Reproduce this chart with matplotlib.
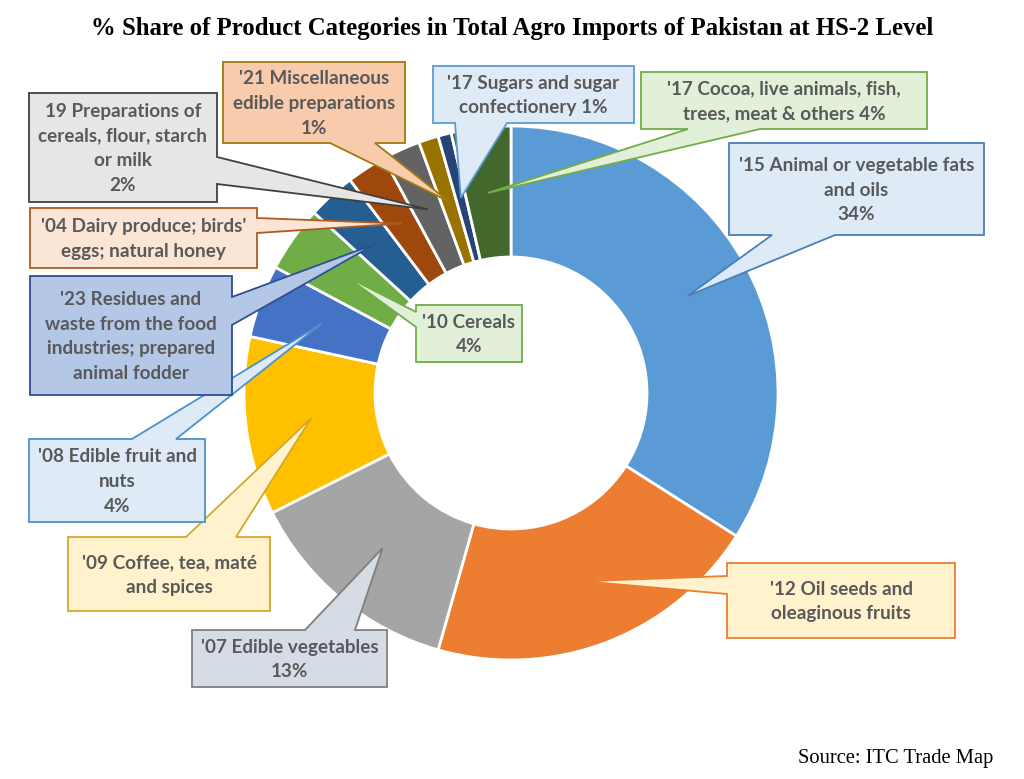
import math
import matplotlib
matplotlib.use('Agg')
import matplotlib.pyplot as plt
from matplotlib.patches import Polygon

W, H = 1024, 779

# slices, clockwise from 12 o'clock
categories = ["'15 Animal or vegetable fats\nand oils\n34%",
              "'12 Oil seeds and\noleaginous fruits",
              "'07 Edible vegetables\n13%",
              "'09 Coffee, tea, maté\nand spices",
              "'08 Edible fruit and\nnuts\n4%",
              "'10 Cereals\n4%",
              "'23 Residues and\nwaste from the food\nindustries; prepared\nanimal fodder",
              "'04 Dairy produce; birds'\neggs; natural honey",
              "19 Preparations of\ncereals, flour, starch\nor milk\n2%",
              "'21 Miscellaneous\nedible preparations\n1%",
              "'17 Sugars and sugar\nconfectionery 1%",
              "'17 Cocoa, live animals, fish,\ntrees, meat & others 4%"]
shares = [34.0, 20.4, 13.2, 10.8, 4.4, 4.0, 2.9, 2.4, 2.3, 1.2, 0.8, 3.6]

sliceColors = ['#5B9BD5', '#ED7D31', '#A5A5A5', '#FFC000', '#4472C4', '#70AD47',
               '#255E91', '#9E480E', '#636363', '#997300', '#264478', '#43682B']
boxFill = ['#DEEBF7', '#FFF2CC', '#D6DCE5', '#FFF2CC', '#DEEBF7', '#E2F0D9',
           '#B4C7E7', '#FBE5D6', '#E7E6E6', '#F8CBAD', '#DEEBF7', '#E2F0D9']
boxEdge = ['#4A7EBB', '#ED7D31', '#7F7F7F', '#D4A72C', '#4A90D0', '#70AD47',
           '#2F4F8F', '#B05A1E', '#404040', '#A07A10', '#5B9BD5', '#70AD47']

# callout layout in pixels (x0, y0, x1, y1), side with the pointer, pointer base
boxes = [((729, 143, 984, 235), 'bottom', (772, 835)),
         ((727, 563, 955, 638), 'left', (576, 594)),
         ((192, 630, 387, 687), 'top', (305, 355)),
         ((68, 537, 270, 611), 'top', (186, 236)),
         ((29, 439, 205, 522), 'top', (132, 176)),
         ((416, 305, 522, 362), 'left', (312, 327)),
         ((30, 276, 232, 395), 'right', (297, 325)),
         ((30, 208, 257, 268), 'right', (218, 233)),
         ((29, 93, 217, 202), 'right', (157, 184)),
         ((223, 62, 405, 143), 'bottom', (330, 375)),
         ((433, 66, 634, 123), 'bottom', (455, 507)),
         ((641, 72, 927, 129), 'bottom', (688, 760))]

CX, CY = 511, 393
R_OUT, R_IN = 267, 136
TEXT_FONT = ['Lato', 'DejaVu Sans']
SERIF = ['Liberation Serif', 'DejaVu Serif']


def fy(py):
    return H - py


# outline of a rectangle callout with a wedge pointer, in pixel coords
def calloutPoints(box, side, base, tip):
    x0, y0, x1, y1 = box
    a, b = sorted(base)
    if side == 'top':
        pts = [(x0, y0), (a, y0), tip, (b, y0), (x1, y0), (x1, y1), (x0, y1)]
    elif side == 'right':
        pts = [(x0, y0), (x1, y0), (x1, a), tip, (x1, b), (x1, y1), (x0, y1)]
    elif side == 'bottom':
        pts = [(x0, y0), (x1, y0), (x1, y1), (b, y1), tip, (a, y1), (x0, y1)]
    else:
        pts = [(x0, y0), (x1, y0), (x1, y1), (x0, y1), (x0, b), tip, (x0, a)]
    return [(px, fy(py)) for px, py in pts]


fig = plt.figure(figsize=(W / 100, H / 100), dpi=100)
ax = fig.add_axes([0, 0, 1, 1])

wedges, _ = ax.pie(shares, colors=sliceColors, startangle=90, counterclock=False,
                   radius=R_OUT, center=(CX, fy(CY)),
                   wedgeprops=dict(width=R_OUT - R_IN, edgecolor='white', linewidth=2))

ax.set_xlim(0, W)
ax.set_ylim(0, H)
ax.set_aspect('equal')
ax.axis('off')

rMid = (R_OUT + R_IN) / 2
for i, w in enumerate(wedges):
    ang = math.radians((w.theta1 + w.theta2) / 2)
    tx = w.center[0] + rMid * math.cos(ang)
    ty = H - (w.center[1] + rMid * math.sin(ang))
    box, side, base = boxes[i]
    poly = Polygon(calloutPoints(box, side, base, (tx, ty)), closed=True,
                   facecolor=boxFill[i], edgecolor=boxEdge[i], linewidth=1.3, zorder=5)
    ax.add_patch(poly)
    ax.text((box[0] + box[2]) / 2, fy((box[1] + box[3]) / 2 + 1), categories[i],
            ha='center', va='center', fontsize=13.6, fontweight='bold',
            color='#595959', family=TEXT_FONT, linespacing=1.55, zorder=6)

ax.text(512, fy(28), '% Share of Product Categories in Total Agro Imports of Pakistan at HS-2 Level',
        ha='center', va='center', fontsize=17.8, fontweight='bold', family=SERIF, color='black')
ax.text(993, fy(758), 'Source: ITC Trade Map', ha='right', va='center', fontsize=14.8,
        family=SERIF, color='black')

fig.savefig('out.png', dpi=100, facecolor='white')
